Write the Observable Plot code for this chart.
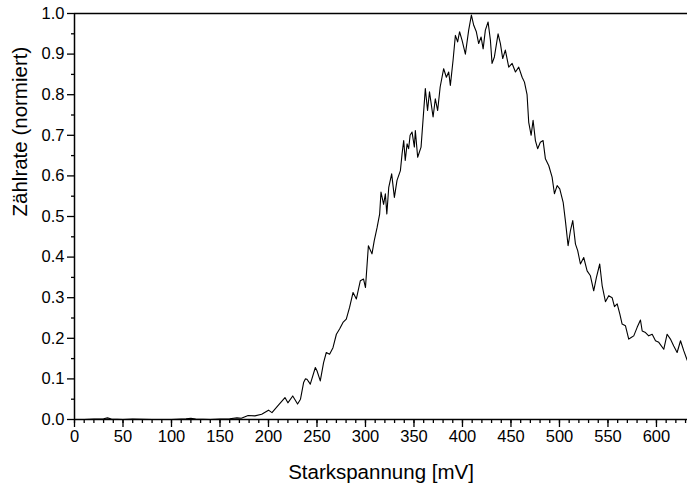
<!DOCTYPE html>
<html>
<head>
<meta charset="utf-8">
<script src="https://cdn.jsdelivr.net/npm/d3@7"></script>
<script src="https://cdn.jsdelivr.net/npm/@observablehq/plot@0.6"></script>
<style>
  html, body { margin: 0; padding: 0; background: #fff; }
  #chart svg { display: block; }
</style>
</head>
<body>
<div id="chart"></div>
<script>
const voltage = [0,10,20,30,34,38,50,60,80,100,115,120,125,140,150,160,167.5,172,179,186,193,200,203.6,210,217,220,225,230,233,236.2,238,239.7,243.1,248.3,250,253.4,256.8,259.6,263,266.5,270,273.3,276.8,280.2,283.6,287.2,290.6,294.7,298,300,303,306.7,309,312,314.6,316,318.7,320.5,322,324,327,329.8,332.5,336,337.7,339.4,341,342.9,344.5,346,348,350.4,351.4,353.8,357.3,361.7,364,366,369.7,372,374.4,377,380.6,383.4,385.8,387.5,390.3,392.7,395,397,399.6,403,406.4,409.2,411.6,414.3,416.7,419.2,421.3,423.6,426.4,428.8,430.5,432.9,436.7,439.1,441.5,444.2,447.7,451.2,454.6,458,461.5,463.9,466.6,468.3,470.8,472.8,475.2,477.5,480.3,483.1,485.5,489,492.4,494.8,497.6,500.3,503.8,506.1,508.9,511.3,513.7,516.5,518.8,521.6,525,528.5,531.9,535.3,538.1,541.5,544,547.4,550.8,554.3,556.7,559.5,562.2,564.6,568,571.4,573.9,576.6,580.1,583.5,585.3,588.7,592,595.6,599,602.4,607.5,611,614.4,617.8,621.3,624.8,628.2,631.7];
const rate = [0,0,0.001,0.002,0.004,0.001,0,0.001,0,0,0.002,0.003,0.001,0,0.001,0.002,0.004,0.003,0.01,0.009,0.013,0.023,0.017,0.035,0.054,0.041,0.058,0.038,0.05,0.091,0.1,0.099,0.087,0.128,0.12,0.095,0.14,0.165,0.161,0.177,0.21,0.223,0.239,0.247,0.276,0.313,0.297,0.342,0.346,0.325,0.428,0.408,0.44,0.473,0.506,0.56,0.53,0.556,0.506,0.572,0.605,0.547,0.589,0.613,0.654,0.687,0.638,0.679,0.667,0.7,0.708,0.671,0.712,0.646,0.671,0.815,0.761,0.807,0.745,0.79,0.761,0.819,0.864,0.843,0.856,0.823,0.885,0.946,0.93,0.955,0.934,0.9,0.959,0.996,0.971,0.955,0.926,0.942,0.913,0.959,0.979,0.934,0.877,0.893,0.95,0.926,0.889,0.91,0.868,0.877,0.856,0.868,0.843,0.831,0.8,0.732,0.7,0.737,0.687,0.667,0.683,0.687,0.642,0.625,0.597,0.556,0.576,0.568,0.535,0.49,0.428,0.465,0.49,0.432,0.416,0.383,0.399,0.366,0.354,0.317,0.35,0.383,0.33,0.29,0.305,0.3,0.278,0.285,0.26,0.235,0.231,0.198,0.202,0.206,0.227,0.245,0.218,0.214,0.206,0.21,0.194,0.19,0.173,0.21,0.198,0.181,0.165,0.194,0.169,0.146];

const xTicks = [0,50,100,150,200,250,300,350,400,450,500,550,600];
const xMinorTicks = d3.range(0, 631, 10);
const yTicks = [0,0.1,0.2,0.3,0.4,0.5,0.6,0.7,0.8,0.9,1.0];
const yMinorTicks = [0.05,0.15,0.25,0.35,0.45,0.55,0.65,0.75,0.85,0.95];
const xLabel = "Starkspannung [mV]";
const yLabel = "Zählrate (normiert)";

const data = voltage.map((v, i) => ({v, r: rate[i]}));

const chart = Plot.plot({
  width: 687,
  height: 487,
  marginLeft: 74,
  marginRight: 0,
  marginTop: 13,
  marginBottom: 68,
  style: {fontFamily: "'Liberation Sans', Arial, sans-serif", fontSize: "16px", color: "#000", background: "#fff", overflow: "visible"},
  x: {domain: [0, 632]},
  y: {domain: [0, 1]},
  marks: [
    Plot.axisX(xMinorTicks, {tickSize: 4, text: null, label: null, strokeWidth: 1.3}),
    Plot.axisX(xTicks, {tickSize: 8, tickPadding: 3, fontSize: 16.5, strokeWidth: 1.3,
      label: null, tickFormat: d3.format("d")}),
    Plot.axisY(yMinorTicks, {tickSize: 3, text: null, label: null, strokeWidth: 1.3}),
    Plot.axisY(yTicks, {tickSize: 7, tickPadding: 3, fontSize: 16.5, strokeWidth: 1.3,
      label: null, tickFormat: d3.format(".1f")}),
    Plot.text([xLabel], {frameAnchor: "bottom", dy: 53, lineAnchor: "middle", fontSize: 20.5, fill: "#000"}),
    Plot.text([yLabel], {frameAnchor: "left", dx: -54, rotate: -90, lineAnchor: "middle", fontSize: 20.5, fill: "#000"}),
    Plot.ruleY([0], {stroke: "#000", strokeWidth: 1.5}),
    Plot.ruleY([1], {stroke: "#000", strokeWidth: 1.3}),
    Plot.ruleX([0], {stroke: "#000", strokeWidth: 1.5}),
    Plot.line(data, {x: "v", y: "r", stroke: "#000", strokeWidth: 1.1})
  ]
});
document.getElementById("chart").appendChild(chart);
</script>
</body>
</html>
